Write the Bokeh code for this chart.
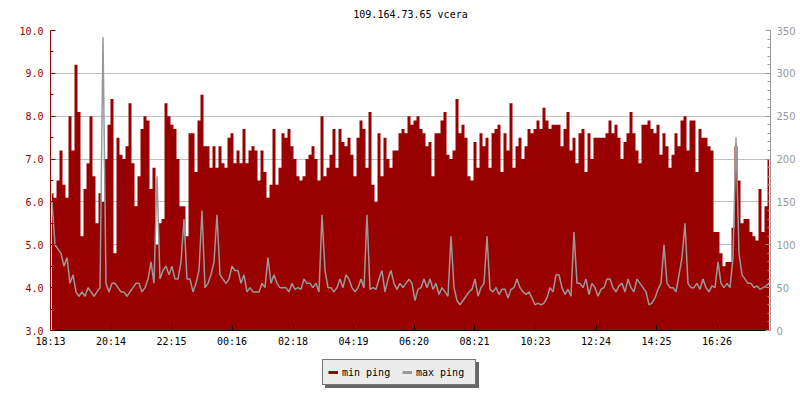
from bokeh.plotting import figure
from bokeh.layouts import column
from bokeh.models import (Range1d, LinearAxis, SingleIntervalTicker, FixedTicker,
                          NumeralTickFormatter, Legend, LegendItem)
from bokeh.embed import file_html
from bokeh.resources import INLINE

chart_title = "109.164.73.65 vcera"
x_tick_labels = ["18:13", "20:14", "22:15", "00:16", "02:18", "04:19",
                 "06:20", "08:21", "10:23", "12:24", "14:25", "16:26"]
series_names = ["min ping", "max ping"]
sample_minutes = 6  # one sample every 6 minutes over 24 h

# min ping (left axis, 3.0 .. 10.0)
min_ping = [
    6.2, 6.1, 6.5, 7.2, 6.4, 6.1, 8.0, 7.2, 9.2, 8.1,
    5.2, 6.3, 6.9, 8.0, 6.6, 5.5, 6.2, 6.0, 7.0, 7.8,
    8.4, 4.8, 7.5, 7.1, 7.0, 7.3, 8.3, 6.9, 5.9, 6.6,
    7.7, 8.0, 7.9, 6.3, 6.8, 5.0, 5.5, 5.6, 8.3, 8.0,
    7.8, 7.7, 7.0, 5.9, 5.9, 5.2, 7.6, 7.6, 6.7, 7.9,
    8.5, 7.3, 7.3, 6.8, 7.3, 6.8, 7.3, 6.9, 6.8, 7.5,
    7.6, 6.9, 7.2, 6.9, 7.7, 6.9, 7.2, 7.3, 7.2, 6.5,
    7.2, 6.7, 6.1, 6.4, 7.7, 6.4, 6.8, 7.6, 7.5, 7.7,
    7.3, 7.0, 6.6, 6.5, 6.6, 7.0, 7.1, 7.3, 7.0, 6.5,
    8.0, 6.6, 6.8, 7.1, 7.7, 6.8, 7.7, 7.4, 7.3, 7.5,
    7.1, 6.6, 7.5, 7.9, 7.7, 6.8, 8.1, 6.4, 6.0, 7.6,
    6.6, 7.5, 7.0, 6.8, 7.2, 7.2, 7.6, 7.7, 7.6, 8.0,
    7.8, 7.9, 8.0, 7.7, 7.6, 7.3, 7.4, 6.6, 7.6, 7.6,
    7.9, 8.1, 7.1, 7.0, 7.2, 8.4, 7.6, 7.8, 7.5, 6.6,
    6.5, 7.4, 6.8, 7.6, 7.3, 7.5, 6.8, 7.6, 7.7, 7.8,
    6.7, 7.6, 7.2, 8.3, 6.8, 7.3, 7.5, 7.0, 7.3, 7.7,
    7.6, 7.7, 7.9, 7.7, 8.2, 7.9, 7.7, 7.8, 7.8, 7.8,
    7.3, 7.7, 8.1, 7.2, 7.5, 6.9, 7.6, 7.7, 6.7, 7.6,
    7.0, 7.5, 7.5, 7.5, 7.5, 7.6, 7.9, 7.6, 7.8, 7.5,
    7.0, 7.4, 7.6, 8.1, 7.6, 7.2, 6.9, 7.8, 7.8, 7.9,
    7.7, 7.6, 7.8, 7.1, 7.6, 7.3, 6.8, 7.1, 7.6, 7.3,
    7.9, 8.0, 7.2, 7.9, 7.9, 6.7, 7.7, 7.5, 7.5, 7.3,
    7.2, 5.3, 5.3, 4.8, 4.5, 4.6, 4.6, 5.4, 7.3, 6.5,
    5.5, 5.6, 5.6, 5.3, 5.2, 5.1, 6.3, 5.3, 5.9, 7.0,
]

# max ping (right axis, 0 .. 350)
max_ping = [
    150, 100, 95, 90, 75, 85, 55, 65, 45, 40,
    45, 40, 50, 45, 40, 45, 50, 342, 55, 45,
    55, 55, 50, 45, 45, 40, 45, 50, 55, 55,
    45, 50, 60, 80, 55, 180, 60, 70, 75, 65,
    75, 60, 60, 80, 130, 60, 60, 45, 55, 70,
    140, 50, 55, 65, 80, 135, 65, 60, 55, 60,
    75, 70, 70, 55, 65, 45, 50, 45, 45, 45,
    55, 50, 85, 55, 65, 55, 50, 50, 50, 45,
    55, 48, 50, 48, 60, 55, 55, 50, 55, 45,
    135, 70, 50, 50, 45, 50, 60, 50, 65, 60,
    50, 45, 50, 60, 50, 135, 48, 50, 48, 60,
    70, 45, 60, 70, 55, 48, 55, 50, 55, 60,
    55, 35, 48, 50, 60, 50, 60, 48, 55, 42,
    50, 45, 40, 110, 50, 35, 30, 35, 40, 45,
    48, 60, 40, 50, 55, 110, 48, 45, 50, 42,
    48, 48, 38, 48, 50, 60, 50, 45, 42, 45,
    38, 30, 32, 30, 32, 38, 50, 45, 65, 65,
    50, 42, 48, 40, 115, 55, 55, 50, 60, 42,
    55, 50, 40, 48, 50, 60, 60, 50, 45, 52,
    55, 45, 60, 50, 45, 60, 55, 50, 45, 30,
    32, 38, 48, 55, 100, 55, 50, 50, 45, 65,
    85, 125, 55, 50, 50, 55, 48, 60, 50, 45,
    52, 50, 80, 55, 50, 55, 50, 85, 225, 90,
    65, 60, 55, 55, 50, 52, 48, 50, 52, 55,
]

RED = "#990000"
GRAY = "#999999"
FONT = "DejaVu Sans Mono"
NAN = float("nan")


def to_min(lbl):
    h, m = lbl.split(":")
    return int(h) * 60 + int(m)


t0 = to_min(x_tick_labels[0])
tick_pos = [(to_min(l) - t0) % 1440 for l in x_tick_labels]
n = len(min_ping)
xs = [sample_minutes * i + sample_minutes / 2 for i in range(n)]

p = figure(width=800, height=350, output_backend="svg", toolbar_location=None,
           x_range=Range1d(0, n * sample_minutes), y_range=Range1d(3, 10),
           min_border_left=50, min_border_right=30, min_border_top=30,
           min_border_bottom=20, title=chart_title)
p.outline_line_color = None
p.background_fill_color = "white"
p.border_fill_color = "white"

p.title.align = "center"
p.title.vertical_align = "top"
p.title.text_font = FONT
p.title.text_font_size = "10px"
p.title.text_font_style = "normal"
p.title.text_color = "black"
p.title.standoff = 17

p.extra_y_ranges = {"right": Range1d(0, 350)}

# data
p.varea_step(x=xs, y1=3.0, y2=min_ping, step_mode="center", fill_color=RED)
p.line(x=xs, y=max_ping, y_range_name="right", line_color=GRAY, line_width=1.5)

# grids
p.xgrid.visible = False
p.ygrid.grid_line_color = "#c0c0c0"
p.ygrid.grid_line_width = 1

# x axis
xa = p.xaxis[0]
xa.ticker = FixedTicker(ticks=tick_pos, minor_ticks=[])
xa.major_label_overrides = {t: l for t, l in zip(tick_pos, x_tick_labels)}
xa.axis_line_color = "black"
xa.major_tick_line_color = "black"
xa.major_tick_in = 5
xa.major_tick_out = 0
xa.minor_tick_line_color = None
xa.major_label_text_font = FONT
xa.major_label_text_font_size = "10px"
xa.major_label_text_color = "black"
xa.major_label_standoff = 5

# left axis
ya = p.yaxis[0]
ya.ticker = SingleIntervalTicker(interval=1, num_minor_ticks=2)
ya.formatter = NumeralTickFormatter(format="0.0")
ya.axis_line_color = RED
ya.major_tick_line_color = RED
ya.minor_tick_line_color = RED
ya.major_tick_in = 5
ya.major_tick_out = 0
ya.minor_tick_in = 3
ya.minor_tick_out = 0
ya.major_label_text_font = FONT
ya.major_label_text_font_size = "10px"
ya.major_label_text_color = RED
ya.major_label_standoff = 7

# right axis
ra = LinearAxis(y_range_name="right",
                ticker=SingleIntervalTicker(interval=50, num_minor_ticks=5))
ra.axis_line_color = GRAY
ra.major_tick_line_color = GRAY
ra.minor_tick_line_color = GRAY
ra.major_tick_in = 5
ra.major_tick_out = 0
ra.minor_tick_in = 3
ra.minor_tick_out = 0
ra.major_label_text_font = "DejaVu Sans"
ra.major_label_text_font_size = "10px"
ra.major_label_text_color = GRAY
ra.major_label_standoff = 6
p.add_layout(ra, "right")

# legend strip (separate small figure so the box and its shadow are not clipped)
lp = figure(width=800, height=50, output_backend="svg", toolbar_location=None,
            x_axis_type=None, y_axis_type=None, x_range=Range1d(0, 1),
            y_range=Range1d(0, 1), min_border=0)
lp.outline_line_color = None
lp.background_fill_color = "white"
lp.border_fill_color = "white"

s1 = lp.line(x=[0, 1], y=[NAN, NAN], line_color="#666666", line_width=3)
l1 = lp.line(x=[0, 1], y=[NAN, NAN], line_color=RED, line_width=3)
l2 = lp.line(x=[0, 1], y=[NAN, NAN], line_color=GRAY, line_width=3)


def make_legend(items, loc, fill, border, txt):
    return Legend(items=items,
                  location=loc, orientation="horizontal", margin=0, padding=5,
                  spacing=6, label_standoff=4, glyph_width=10, glyph_height=14,
                  label_height=14, label_width=54,
                  background_fill_color=fill, background_fill_alpha=1.0,
                  border_line_color=border, border_line_width=1,
                  label_text_font=FONT, label_text_font_size="10px",
                  label_text_color=txt)


# shadow box (same size, blank labels)
shadow_items = [LegendItem(label=" ", renderers=[s1]),
                LegendItem(label="  ", renderers=[s1])]
main_items = [LegendItem(label=series_names[0], renderers=[l1]),
              LegendItem(label=series_names[1], renderers=[l2])]
lp.add_layout(make_legend(shadow_items, (275, 12), "#666666", "#666666", "#666666"), "center")
lp.add_layout(make_legend(main_items, (272, 15), "#ececec", "black", "black"), "center")

open("out.html", "w").write(file_html(column(p, lp, spacing=0), INLINE))
